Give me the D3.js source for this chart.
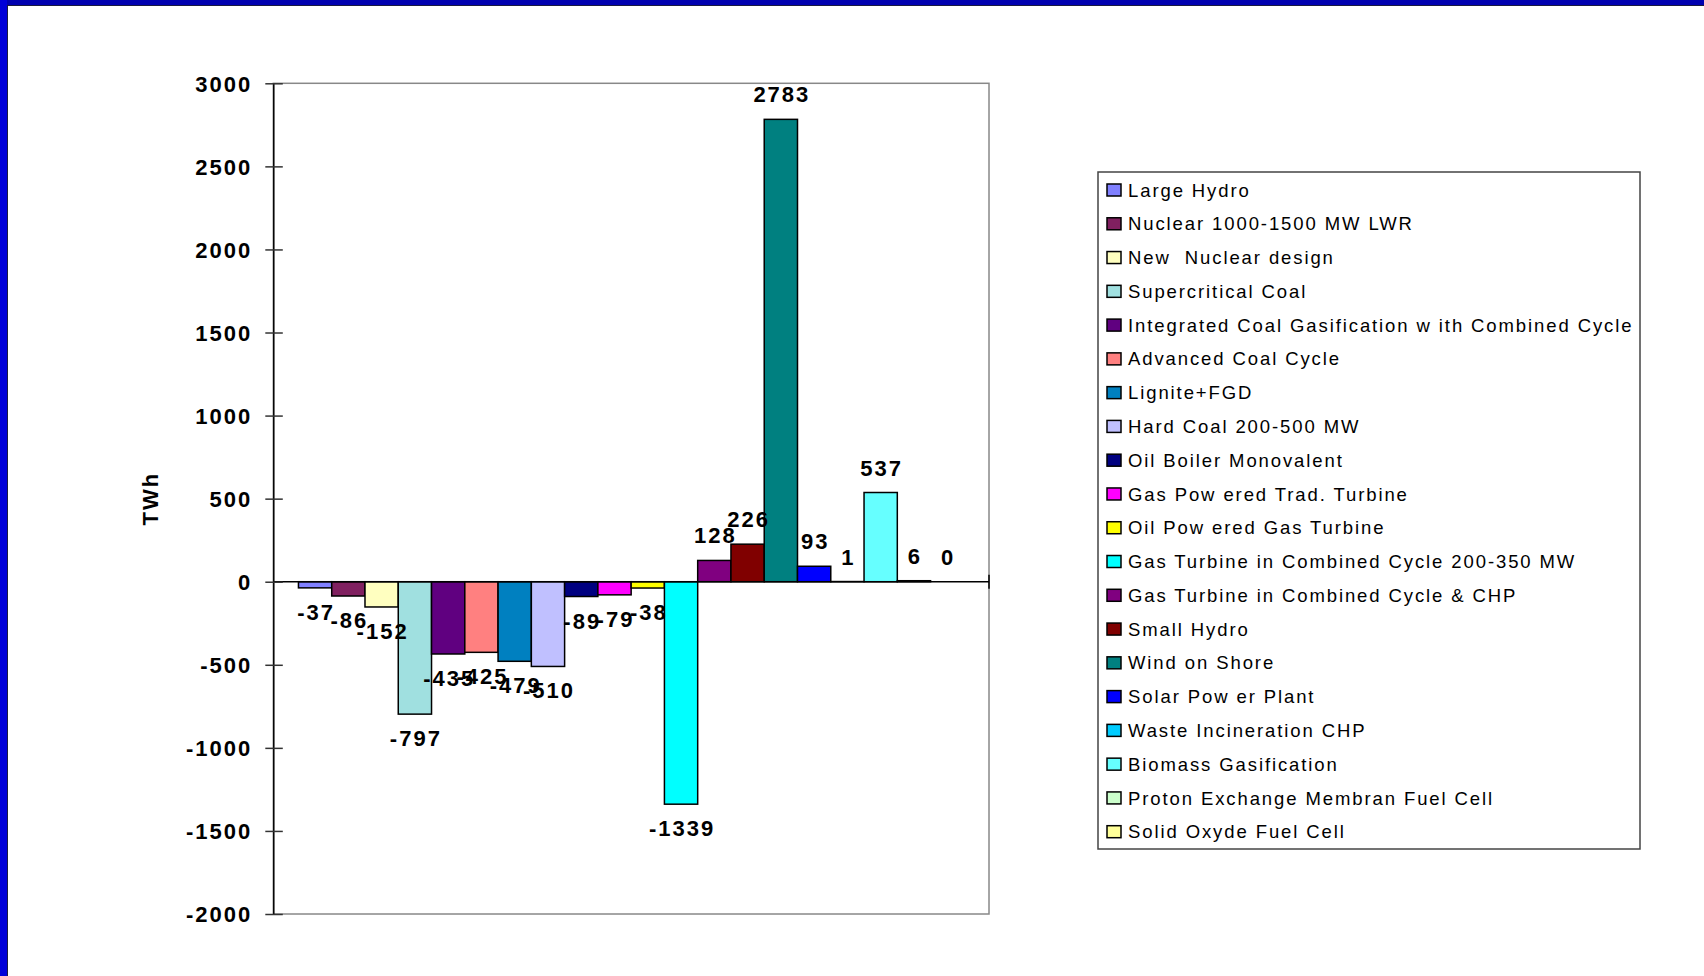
<!DOCTYPE html>
<html>
<head>
<meta charset="utf-8">
<script src="https://cdn.jsdelivr.net/npm/d3@7"></script>
<style>
  body { margin: 0; background: #fff; }
  svg { display: block; font-family: "Liberation Sans", Arial, sans-serif; }
  .lbl { font-weight: bold; font-size: 22px; letter-spacing: 2px; }
  .leg { font-size: 18.5px; letter-spacing: 1.9px; white-space: pre; }
</style>
</head>
<body>
<svg id="vis"></svg>
<script>
const width = 1704;
const height = 976;

// chart data
const technologies = [
  "Large Hydro",
  "Nuclear 1000-1500 MW LWR",
  "New  Nuclear design",
  "Supercritical Coal",
  "Integrated Coal Gasification w ith Combined Cycle",
  "Advanced Coal Cycle",
  "Lignite+FGD",
  "Hard Coal 200-500 MW",
  "Oil Boiler Monovalent",
  "Gas Pow ered Trad. Turbine",
  "Oil Pow ered Gas Turbine",
  "Gas Turbine in Combined Cycle 200-350 MW",
  "Gas Turbine in Combined Cycle & CHP",
  "Small Hydro",
  "Wind on Shore",
  "Solar Pow er Plant",
  "Waste Incineration CHP",
  "Biomass Gasification",
  "Proton Exchange Membran Fuel Cell",
  "Solid Oxyde Fuel Cell"
];
const values = [-37, -86, -152, -797, -435, -425, -479, -510, -89, -79, -38, -1339, 128, 226, 2783, 93, 1, 537, 6, 0];
const colours = ["#8080FF", "#802060", "#FFFFC0", "#A0E0E0", "#600080", "#FF8080", "#0080C0", "#C0C0FF",
  "#000080", "#FF00FF", "#FFFF00", "#00FFFF", "#800080", "#800000", "#008080", "#0000FF",
  "#00CCFF", "#66FFFF", "#CCFFCC", "#FFFF99"];
const yTicks = [-2000, -1500, -1000, -500, 0, 500, 1000, 1500, 2000, 2500, 3000];
const yTitle = "TWh";

const data = technologies.map((name, i) => ({ name: name, value: values[i], colour: colours[i] }));

const plotLeft = 273.3;
const plotRight = 989;

const svg = d3.select("#vis")
  .attr("width", width)
  .attr("height", height);

// slide frame
svg.append("rect").attr("width", width).attr("height", height).attr("fill", "#fff");
svg.append("rect").attr("x", 0).attr("y", 0).attr("width", width).attr("height", 5).attr("fill", "#0000B0");
svg.append("rect").attr("x", 0).attr("y", 0).attr("width", 7).attr("height", height).attr("fill", "#0000D8");
svg.append("line").attr("x1", 7).attr("x2", width).attr("y1", 5.5).attr("y2", 5.5).attr("stroke", "#1a1a40").attr("stroke-width", 1);
svg.append("line").attr("x1", 7.5).attr("x2", 7.5).attr("y1", 5).attr("y2", height).attr("stroke", "#1a1a40").attr("stroke-width", 1);

const y = d3.scaleLinear().domain([-2000, 3000]).range([914, 83.3]);
const x = d3.scaleBand()
  .domain(technologies)
  .range([plotLeft, plotRight])
  .paddingInner(0)
  .paddingOuter(0.756);

// plot area border
svg.append("rect")
  .attr("x", plotLeft)
  .attr("y", y(3000))
  .attr("width", plotRight - plotLeft)
  .attr("height", y(-2000) - y(3000))
  .attr("fill", "none")
  .attr("stroke", "#888")
  .attr("stroke-width", 1.5);

// bars
svg.selectAll("rect.bar")
  .data(data)
  .join("rect")
  .attr("class", "bar")
  .attr("x", d => x(d.name))
  .attr("width", x.bandwidth())
  .attr("y", d => y(Math.max(0, d.value)))
  .attr("height", d => Math.abs(y(d.value) - y(0)))
  .attr("fill", d => d.colour)
  .attr("stroke", "#000")
  .attr("stroke-width", 1.5);

// zero line
svg.append("line")
  .attr("x1", plotLeft).attr("x2", plotRight)
  .attr("y1", y(0)).attr("y2", y(0))
  .attr("stroke", "#000").attr("stroke-width", 1.5);
svg.append("line")
  .attr("x1", plotRight).attr("x2", plotRight)
  .attr("y1", y(0) - 7).attr("y2", y(0) + 7)
  .attr("stroke", "#000").attr("stroke-width", 1.5);

// y axis
const yAxis = svg.append("g")
  .attr("transform", `translate(${plotLeft},0)`)
  .call(d3.axisLeft(y)
    .tickValues(yTicks)
    .tickFormat(d => String(d))
    .tickSizeInner(8)
    .tickSizeOuter(0)
    .tickPadding(13));
yAxis.select(".domain").attr("stroke", "#000").attr("stroke-width", 1.5);
yAxis.selectAll(".tick line").attr("x2", 9.5).attr("x1", -8).attr("stroke", "#333").attr("stroke-width", 1.5);
yAxis.selectAll(".tick text")
  .attr("class", "lbl")
  .attr("fill", "#000")
  .style("font-size", "22px")
  .attr("dy", "0.36em");
yAxis.attr("font-family", null).attr("font-size", null);

svg.append("text")
  .attr("class", "lbl")
  .attr("transform", `translate(158,${(y(3000) + y(-2000)) / 2}) rotate(-90)`)
  .attr("text-anchor", "middle")
  .text(yTitle);

// data labels
svg.selectAll("text.val")
  .data(data)
  .join("text")
  .attr("class", "val lbl")
  .attr("x", d => x(d.name) + x.bandwidth() / 2 + 1)
  .attr("y", d => d.value < 0 ? y(d.value) + 32 : y(d.value) - 17)
  .attr("text-anchor", "middle")
  .text(d => d.value);

// legend
const legend = svg.append("g").attr("transform", "translate(1098,172)");
legend.append("rect")
  .attr("width", 542)
  .attr("height", 677)
  .attr("fill", "#fff")
  .attr("stroke", "#444")
  .attr("stroke-width", 1.5);

const rowY = d3.scaleLinear().domain([0, data.length - 1]).range([18, 659.7]);

legend.selectAll("g.item")
  .data(data)
  .join(enter =>
    enter
      .append("g")
      .attr("class", "item")
      .attr("transform", (d, i) => `translate(0,${rowY(i)})`)
      .each(function (d) {
        d3.select(this)
          .append("rect")
          .attr("x", 9)
          .attr("y", -6)
          .attr("width", 14)
          .attr("height", 12)
          .attr("fill", d.colour)
          .attr("stroke", "#000")
          .attr("stroke-width", 1.5);
        d3.select(this)
          .append("text")
          .attr("class", "leg")
          .attr("x", 30)
          .attr("y", 6.6)
          .text(d.name);
      })
  );
</script>
</body>
</html>
